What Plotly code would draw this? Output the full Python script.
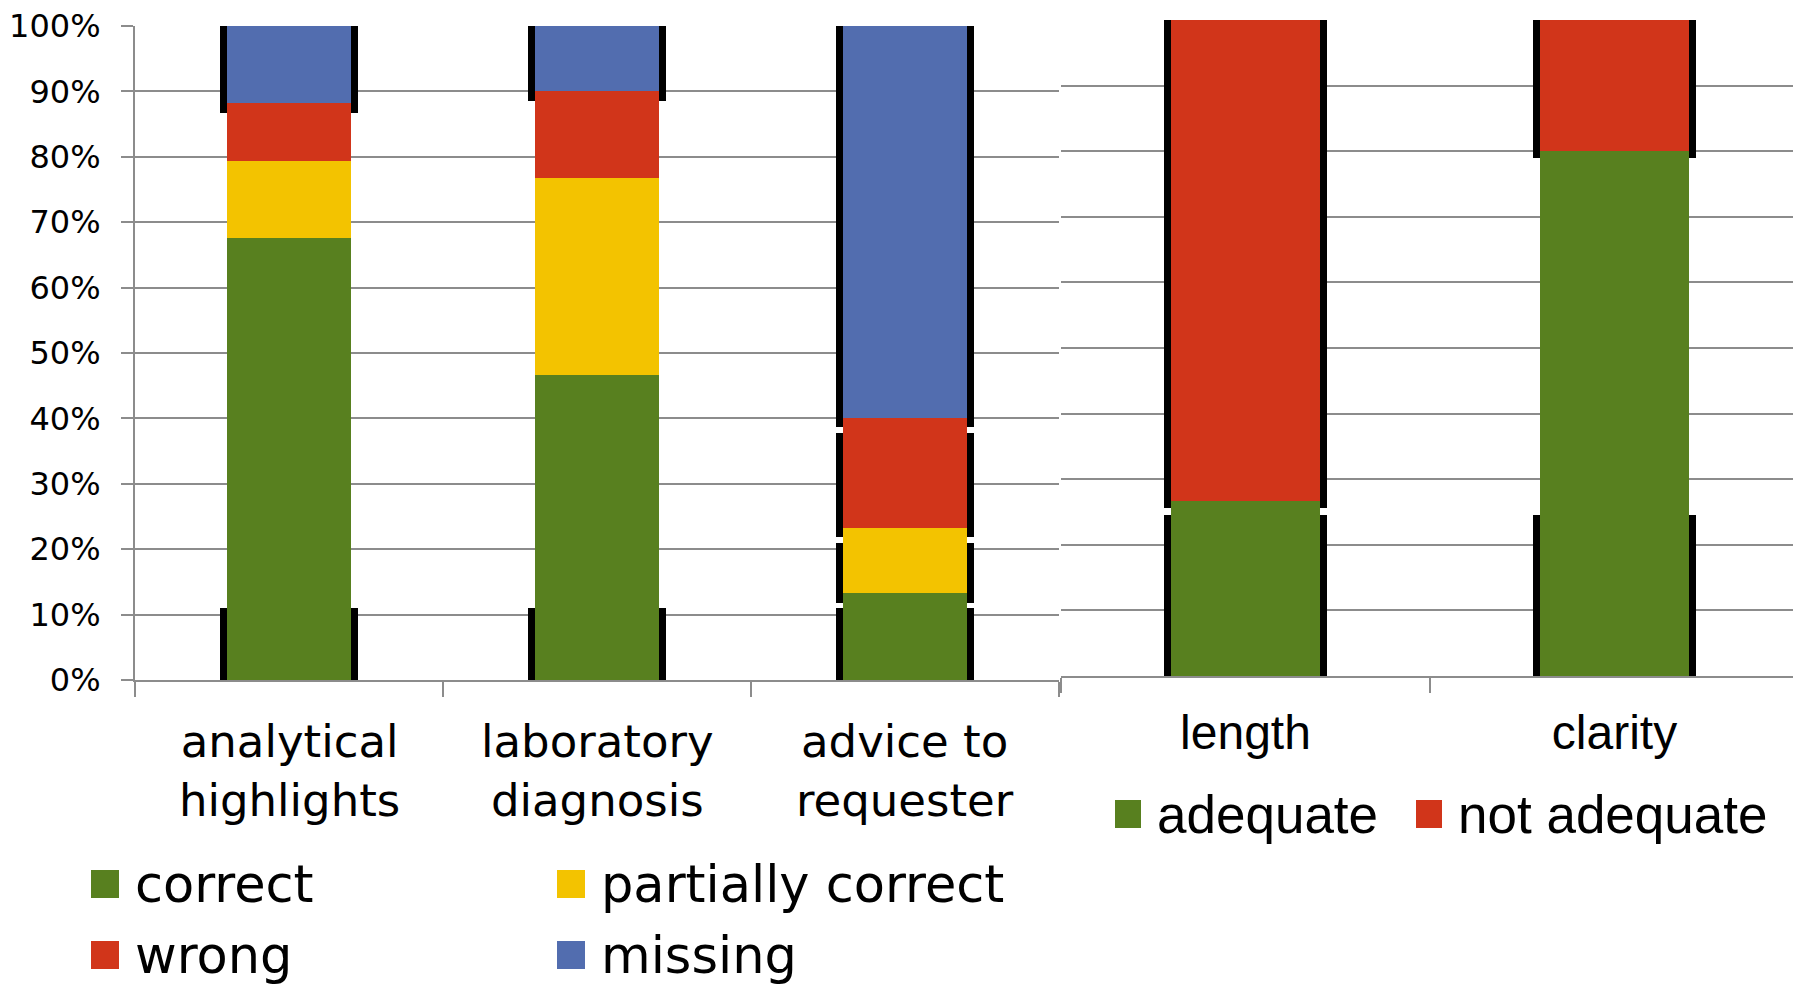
import numpy as np
import plotly.graph_objects as go

# ---- data -------------------------------------------------------------
category_lines = [("analytical", "highlights"),
                  ("laboratory", "diagnosis"),
                  ("advice to", "requester")]
correct = [67.6, 46.7, 13.3]
partially_correct = [11.8, 30.0, 10.0]
wrong = [8.8, 13.3, 16.7]
missing = [11.8, 10.0, 60.0]

quality_categories = ["length", "clarity"]
adequate = [26.7, 80.0]
not_adequate = [73.3, 20.0]

# black frame segments behind the bars: (category index, from %, to %)
frame_spans_left = [(0, 0, 11.0), (0, 86.7, 100), (1, 0, 11.0), (1, 88.5, 100),
                    (2, 0, 11.0), (2, 11.8, 21.0), (2, 21.9, 37.8), (2, 38.7, 100)]
frame_spans_right = [(0, 0, 24.5), (0, 25.6, 100), (1, 0, 24.5), (1, 79.0, 100)]

y_ticks = list(range(0, 101, 10))
y_tick_labels = [f"{v}%" for v in y_ticks]

# ---- styles -----------------------------------------------------------
GREEN, YELLOW, RED, BLUE = "#58801f", "#f3c300", "#d1351a", "#526daf"
GRID = "#8c8c8c"
FONT_L = "DejaVu Sans, Open Sans, sans-serif"
FONT_R = "Liberation Sans, Arial, sans-serif"
W, H = 1793, 990


def px(x):
    return x / W


def py(y):
    return 1 - y / H


fig = go.Figure()


def add_frames(spans, xa, ya, width):
    idx = [s[0] for s in spans]
    lo = np.array([s[1] for s in spans], dtype=float)
    hi = np.array([s[2] for s in spans], dtype=float)
    fig.add_trace(go.Bar(x=idx, y=hi - lo, base=lo, width=width,
                         marker=dict(color="black", line=dict(width=0)),
                         xaxis=xa, yaxis=ya, showlegend=False, hoverinfo="skip"))


def add_stack(series, colors, names, xa, ya, width):
    base = np.zeros(len(series[0]))
    for vals, col, name in zip(series, colors, names):
        vals = np.asarray(vals, dtype=float)
        fig.add_trace(go.Bar(x=list(range(len(vals))), y=vals, base=base.copy(),
                             width=width, name=name,
                             marker=dict(color=col, line=dict(width=0)),
                             xaxis=xa, yaxis=ya, showlegend=False))
        base = base + vals


add_frames(frame_spans_left, "x", "y", 0.448)
add_stack([correct, partially_correct, wrong, missing],
          [GREEN, YELLOW, RED, BLUE],
          ["correct", "partially correct", "wrong", "missing"], "x", "y", 0.40)

add_frames(frame_spans_right, "x2", "y2", 0.44)
add_stack([adequate, not_adequate], [GREEN, RED],
          ["adequate", "not adequate"], "x2", "y2", 0.404)

n_left = len(category_lines)
n_right = len(quality_categories)

fig.update_layout(
    template="none",
    width=W, height=H, margin=dict(l=0, r=0, t=0, b=0, autoexpand=False),
    paper_bgcolor="white", plot_bgcolor="white",
    barmode="overlay", bargap=0, showlegend=False,
    xaxis=dict(domain=[px(135), px(1059)], range=[-0.5, n_left - 0.5],
               automargin=False,
               showline=True, linecolor=GRID, linewidth=2,
               showgrid=False, zeroline=False, showticklabels=False,
               tickvals=[], ticks="",
               minor=dict(tickvals=[i - 0.5 for i in range(n_left + 1)],
                          ticks="outside", ticklen=15, tickwidth=2,
                          tickcolor=GRID, showgrid=False)),
    yaxis=dict(domain=[py(680), py(26)], range=[0, 100], automargin=False,
               tickvals=y_ticks, ticktext=y_tick_labels,
               showline=True, linecolor=GRID, linewidth=2,
               ticks="outside", ticklen=12, tickwidth=2, tickcolor=GRID,
               showgrid=True, gridcolor=GRID, gridwidth=2, zeroline=False,
               ticklabelstandoff=14,
               tickfont=dict(family=FONT_L, size=32, color="black")),
    xaxis2=dict(domain=[px(1061), 1.0], range=[-0.5, (W - 1061) / 369 - 0.5],
                anchor="y2", automargin=False,
                showline=True, linecolor=GRID, linewidth=2,
                showgrid=False, zeroline=False,
                tickvals=list(range(n_right)), ticktext=quality_categories,
                ticks="", ticklabelstandoff=13,
                tickfont=dict(family=FONT_R, size=48, color="black"),
                minor=dict(tickvals=[i - 0.5 for i in range(n_right + 1)],
                           ticks="outside", ticklen=15, tickwidth=2,
                           tickcolor=GRID, showgrid=False)),
    yaxis2=dict(domain=[py(676), py(20)], range=[0, 100], anchor="x2",
                automargin=False,
                tickvals=y_ticks, showticklabels=False, showline=False,
                ticks="", showgrid=True, gridcolor=GRID, gridwidth=2,
                zeroline=False),
)

# two-line category labels for the left panel
for i, (l1, l2) in enumerate(category_lines):
    fig.add_annotation(x=i, xref="x", y=py(771), yref="paper",
                       text=f"{l1}<br>{l2}", showarrow=False,
                       xanchor="center", yanchor="middle", align="center",
                       font=dict(family=FONT_L, size=45, color="black"))

# legends drawn as swatches + labels
legend_left = [("correct", GREEN, 91, 884), ("partially correct", YELLOW, 557, 884),
               ("wrong", RED, 91, 955), ("missing", BLUE, 557, 955)]
for label, col, x0, yc in legend_left:
    fig.add_shape(type="rect", xref="paper", yref="paper",
                  x0=px(x0), x1=px(x0 + 28), y0=py(yc + 14), y1=py(yc - 14),
                  fillcolor=col, line=dict(width=0))
    fig.add_annotation(x=px(x0 + 42), xref="paper", y=py(yc), yref="paper",
                       text=label, showarrow=False, xanchor="left",
                       yanchor="middle",
                       font=dict(family=FONT_L, size=51, color="black"))

legend_right = [("adequate", GREEN, 1115, 814), ("not adequate", RED, 1416, 814)]
for label, col, x0, yc in legend_right:
    fig.add_shape(type="rect", xref="paper", yref="paper",
                  x0=px(x0), x1=px(x0 + 26), y0=py(yc + 14), y1=py(yc - 14),
                  fillcolor=col, line=dict(width=0))
    fig.add_annotation(x=px(x0 + 40), xref="paper", y=py(yc), yref="paper",
                       text=label, showarrow=False, xanchor="left",
                       yanchor="middle",
                       font=dict(family=FONT_R, size=53, color="black"))

fig.write_html("out.html")
